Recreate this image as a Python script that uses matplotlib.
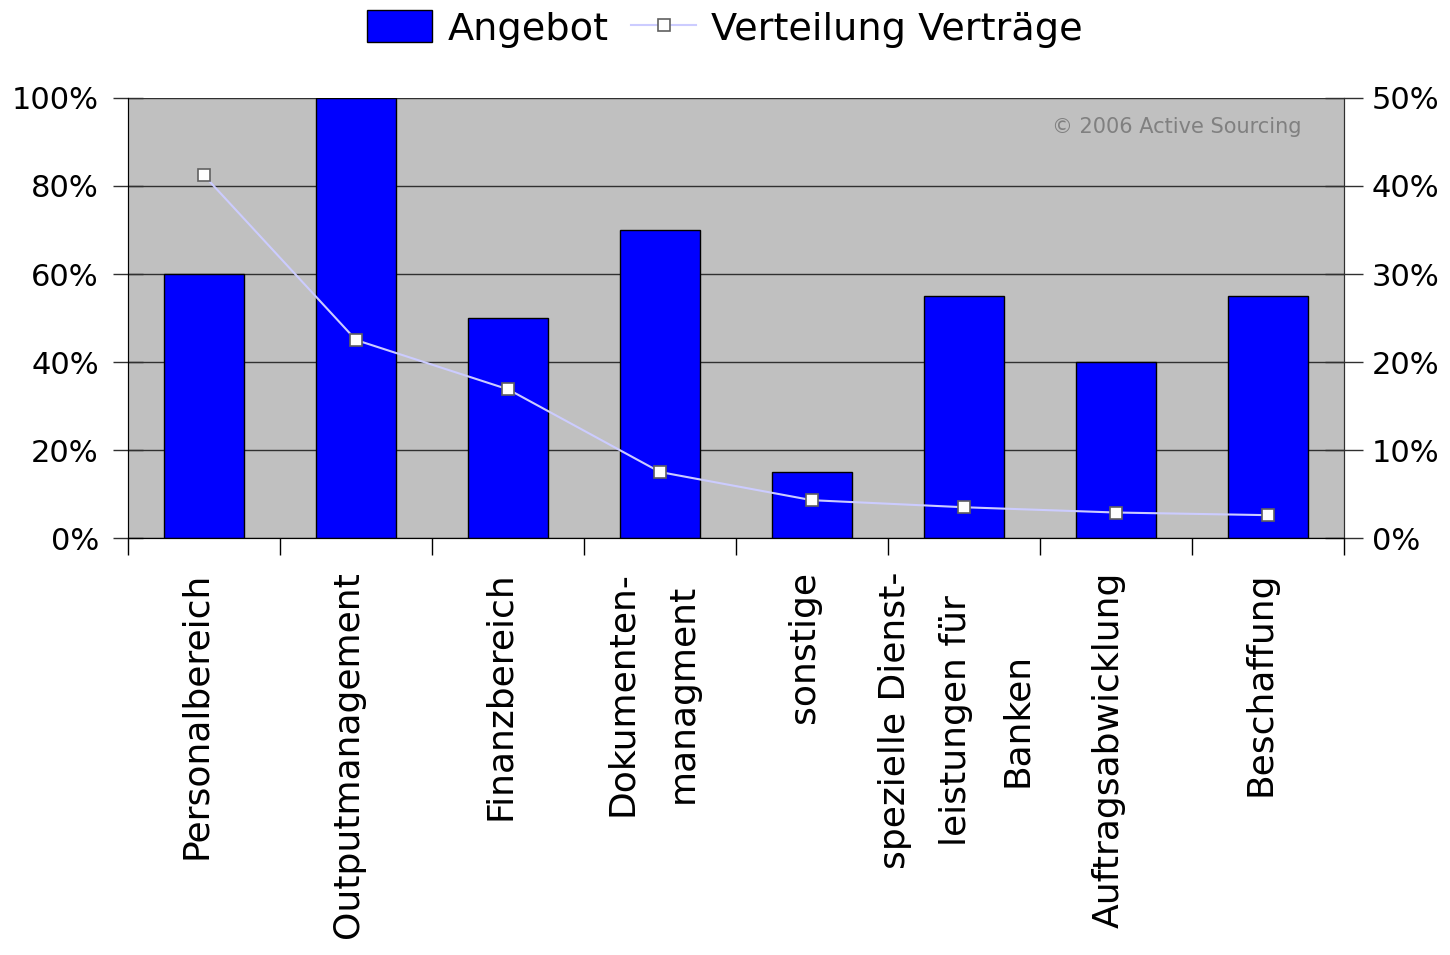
import matplotlib.pyplot as plt
from matplotlib.ticker import PercentFormatter
import numpy as np

kategorien = ['Personalbereich', 'Outputmanagement', 'Finanzbereich',
              'Dokumenten-\nmanagment', 'sonstige',
              'spezielle Dienst-\nleistungen für\nBanken',
              'Auftragsabwicklung', 'Beschaffung']
angebot = [60, 100, 50, 70, 15, 55, 40, 55]
vertraege = [41.2, 22.5, 16.9, 7.5, 4.3, 3.5, 2.9, 2.6]

plt.rcParams['font.family'] = ['DejaVu Sans']

fig = plt.figure(figsize=(14.5, 9.55), dpi=100)
ax = fig.add_axes([0.0883, 0.4366, 0.8386, 0.4608])
ax.set_facecolor('#c0c0c0')

x = np.arange(len(kategorien))
bars = ax.bar(x, angebot, width=0.53, color='#0000ff', edgecolor='black',
              linewidth=1, zorder=3, label='Angebot')
ax.set_ylim(0, 100)
ax.set_xlim(-0.5, len(kategorien) - 0.5)
ax.set_yticks(range(0, 101, 20))
ax.yaxis.set_major_formatter(PercentFormatter(decimals=0))
ax.grid(axis='y', color='#303030', linewidth=1, zorder=1)
ax.set_axisbelow(True)

# ticks between categories, labels at the centers (nudged a bit left)
ax.set_xticks(np.arange(-0.5, len(kategorien)), labels=[])
ax.set_xticks(x - 0.05, labels=kategorien, minor=True)
ax.tick_params(axis='x', which='major', length=12, width=1, color='black')
ax.tick_params(axis='x', which='minor', length=0, pad=24, labelsize=26,
               labelrotation=90)
for lab in ax.get_xticklabels(minor=True):
    lab.set_verticalalignment('top')
    lab.set_horizontalalignment('center')
    lab.set_multialignment('center')
    lab.set_linespacing(2.0)
ax.tick_params(axis='y', direction='inout', length=22, width=1, labelsize=22,
               pad=10, color='#303030')

ax.spines['top'].set_visible(False)
for s in ['left', 'right', 'bottom']:
    ax.spines[s].set_color('#303030')

ax2 = ax.twinx()
ax2.plot(x, vertraege, color='#ccccff', linewidth=1.5, marker='s',
         markersize=9, markerfacecolor='white', markeredgecolor='#606060',
         markeredgewidth=1.2, zorder=4, label='Verteilung Verträge')
ax2.set_ylim(0, 50)
ax2.set_yticks(range(0, 51, 10))
ax2.yaxis.set_major_formatter(PercentFormatter(decimals=0))
ax2.tick_params(axis='y', direction='inout', length=28, width=1, labelsize=22,
                pad=6, color='#303030')
ax2.spines['top'].set_visible(False)
ax2.spines['right'].set_color('#303030')

ax.text(0.965, 0.935, '© 2006 Active Sourcing', transform=ax.transAxes,
        ha='right', va='center', fontsize=15, color='#808080')

fig.legend(handles=[bars, ax2.get_lines()[0]], loc='upper center',
           bbox_to_anchor=(0.5, 1.025), ncol=2, frameon=False, fontsize=27.5,
           handlelength=1.7, handleheight=0.9, columnspacing=0.6,
           handletextpad=0.4)

fig.savefig('out.png', dpi=100)
